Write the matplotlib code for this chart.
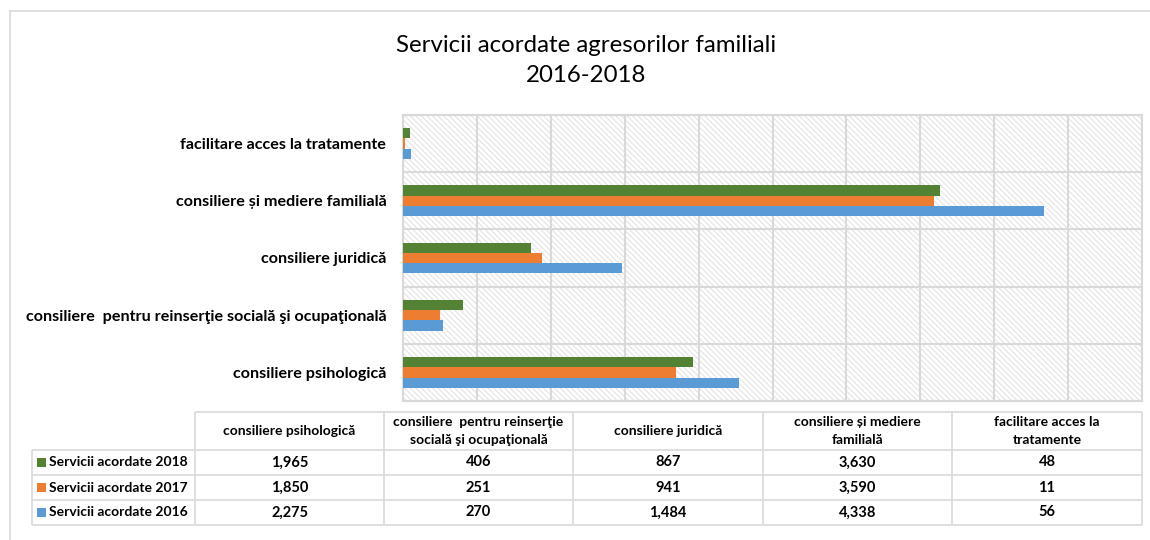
import matplotlib
matplotlib.use("Agg")
import matplotlib.pyplot as plt
import numpy as np
from matplotlib.patches import Rectangle
from matplotlib.lines import Line2D

# data
categories = ["consiliere psihologică",
              "consiliere  pentru reinserţie socială şi ocupaţională",
              "consiliere juridică",
              "consiliere și mediere familială",
              "facilitare acces la tratamente"]
table_headers = ["consiliere psihologică",
                 "consiliere  pentru reinserţie\nsocială şi ocupaţională",
                 "consiliere juridică",
                 "consiliere și mediere\nfamilială",
                 "facilitare acces la\ntratamente"]
series_names = ["Servicii acordate 2018", "Servicii acordate 2017", "Servicii acordate 2016"]
values_2018 = [1965, 406, 867, 3630, 48]
values_2017 = [1850, 251, 941, 3590, 11]
values_2016 = [2275, 270, 1484, 4338, 56]
colors = ["#548235", "#ED7D31", "#5B9BD5"]

plt.rcParams['font.family'] = ['Lato', 'DejaVu Sans']
plt.rcParams['hatch.linewidth'] = 0.7

W, H = 1150, 540
fig = plt.figure(figsize=(11.5, 5.4), dpi=100)


def fx(px):
    return px / W


def fy(py):
    return 1 - py / H


grid_col = '#d9d9d9'

# outer frame (only left and top visible)
fig.add_artist(Line2D([fx(10), 1.01], [fy(11), fy(11)], transform=fig.transFigure, color=grid_col, lw=1.2))
fig.add_artist(Line2D([fx(10), fx(10)], [fy(11), -0.01], transform=fig.transFigure, color=grid_col, lw=1.2))

# title
fig.text(fx(586), fy(45), "Servicii acordate agresorilor familiali", ha='center', va='center', fontsize=17.3)
fig.text(fx(586), fy(75), "2016-2018", ha='center', va='center', fontsize=17.3)

# bar chart
ax = fig.add_axes([fx(403), fy(401), fx(1142) - fx(403), fy(115) - fy(401)])
y = np.arange(len(categories))
h = 0.18
all_vals = [values_2018, values_2017, values_2016]
for i, (vals, c) in enumerate(zip(all_vals, colors)):
    ax.barh(y + h * (1 - i), vals, h, color=c, zorder=3)

ax.add_patch(Rectangle((0, 0), 1, 1, transform=ax.transAxes, facecolor='white',
                       edgecolor='#e0e0e0', hatch='\\\\\\\\\\\\', lw=0, zorder=0))
ax.set_xlim(0, 5000)
ax.set_ylim(-0.5, len(categories) - 0.5)
ax.set_xticks(np.arange(0, 5001, 500))
ax.set_xticklabels([])
ax.set_yticks(y)
ax.set_yticklabels(categories, fontweight='bold', fontsize=11.6)
ax.set_yticks(np.arange(-0.5, len(categories)), minor=True)
ax.grid(axis='x', which='major', color=grid_col, lw=1.5, zorder=1)
ax.grid(axis='y', which='minor', color=grid_col, lw=1.5, zorder=1)
ax.tick_params(axis='both', which='both', length=0)
ax.tick_params(axis='y', pad=12)
ax.set_axisbelow(True)
for s in ax.spines.values():
    s.set_color(grid_col)
    s.set_linewidth(1.5)

# data table
tax = fig.add_axes([0, 0, 1, 1], zorder=-1)
tax.set_xlim(0, W)
tax.set_ylim(H, 0)
tax.axis('off')

col_edges = [32, 195, 384, 573, 763, 952, 1142]
row_edges = [412, 450, 475, 500, 525]
tax.hlines(row_edges[0], col_edges[1], col_edges[-1], color=grid_col, lw=1.2)
tax.hlines(row_edges[1:], col_edges[0], col_edges[-1], color=grid_col, lw=1.2)
tax.vlines(col_edges[1:], row_edges[0], row_edges[-1], color=grid_col, lw=1.2)
tax.vlines(col_edges[0], row_edges[1], row_edges[-1], color=grid_col, lw=1.2)

for j, hdr in enumerate(table_headers):
    cx = (col_edges[j + 1] + col_edges[j + 2]) / 2
    cy = (row_edges[0] + row_edges[1]) / 2
    tax.text(cx, cy, hdr, ha='center', va='center', fontsize=10, fontweight='bold', linespacing=1.6)

for i, (name, vals, c) in enumerate(zip(series_names, all_vals, colors)):
    cy = (row_edges[i + 1] + row_edges[i + 2]) / 2
    tax.add_patch(Rectangle((37, cy - 4.5), 9, 9, facecolor=c, lw=0))
    tax.text(49, cy, name, ha='left', va='center', fontsize=10, fontweight='bold')
    for j, v in enumerate(vals):
        cx = (col_edges[j + 1] + col_edges[j + 2]) / 2
        tax.text(cx, cy, f"{v:,}", ha='center', va='center', fontsize=10.5, fontweight='bold')

fig.savefig("out.png", dpi=100)
